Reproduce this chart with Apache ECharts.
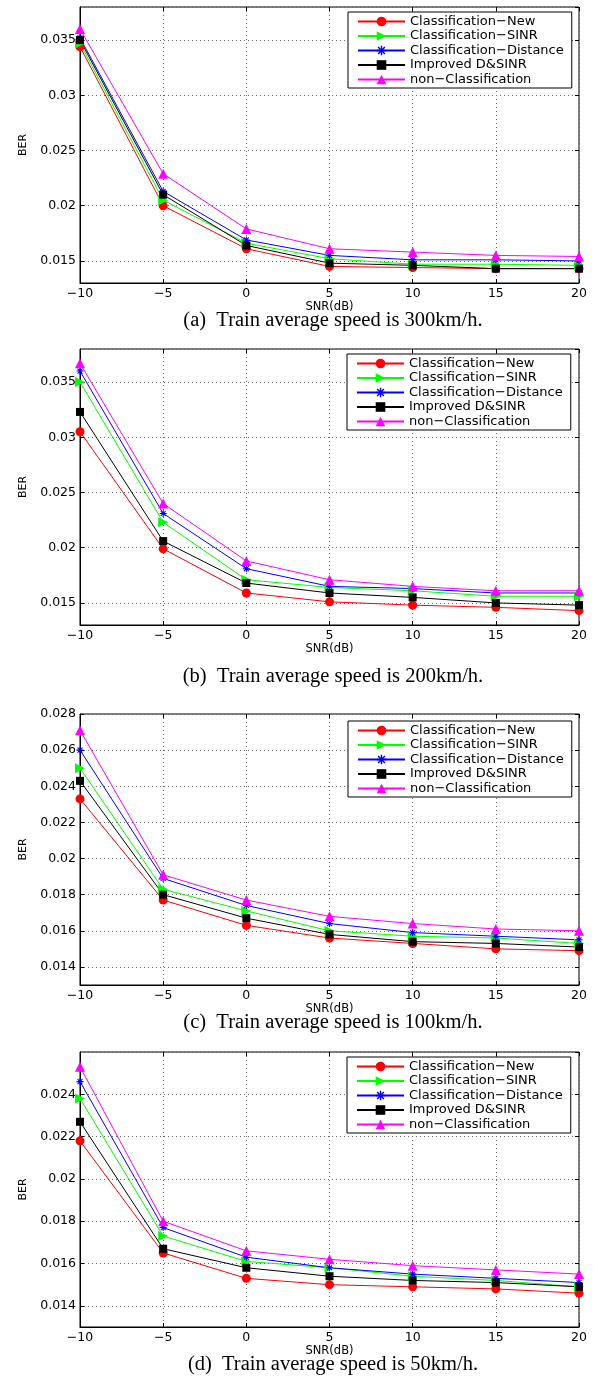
<!DOCTYPE html>
<html>
<head>
<meta charset="utf-8">
<title>BER vs SNR</title>
<script src="https://cdn.jsdelivr.net/npm/echarts@6/dist/echarts.min.js"></script>
<style>
  html, body { margin: 0; padding: 0; background: #fff; }
  #chart { width: 598px; height: 1379px; }
</style>
</head>
<body>
<div id="chart"></div>
<script>
// x values shared by every panel
const snr = [-10, -5, 0, 5, 10, 15, 20];
const names = ['Classification\u2212New', 'Classification\u2212SINR', 'Classification\u2212Distance',
  'Improved D&SINR', 'non\u2212Classification'];

// (a) 300 km/h
const newA  = [0.0344, 0.0200, 0.0161, 0.0145, 0.0144, 0.0143, 0.0143];
const sinrA = [0.0347, 0.0205, 0.0166, 0.0152, 0.0147, 0.0147, 0.0146];
const distA = [0.0352, 0.0213, 0.0169, 0.0155, 0.0151, 0.0151, 0.0150];
const impA  = [0.0350, 0.0210, 0.0164, 0.0148, 0.0146, 0.0143, 0.0143];
const nonA  = [0.0360, 0.0229, 0.0179, 0.0161, 0.0158, 0.0155, 0.0154];

// (b) 200 km/h
const newB  = [0.0305, 0.0199, 0.0159, 0.0151, 0.0148, 0.0146, 0.0143];
const sinrB = [0.0350, 0.0223, 0.0171, 0.0164, 0.0161, 0.0156, 0.0156];
const distB = [0.0360, 0.0231, 0.0181, 0.0165, 0.0163, 0.0159, 0.0159];
const impB  = [0.0323, 0.0206, 0.0168, 0.0159, 0.0155, 0.0150, 0.0148];
const nonB  = [0.0367, 0.0240, 0.0188, 0.0171, 0.0165, 0.0161, 0.0161];

// (c) 100 km/h
const newC  = [0.0233, 0.0177, 0.0163, 0.0156, 0.0153, 0.0150, 0.0149];
const sinrC = [0.0250, 0.0183, 0.0171, 0.0160, 0.0157, 0.0156, 0.0153];
const distC = [0.0260, 0.0189, 0.0174, 0.0164, 0.0159, 0.0157, 0.0155];
const impC  = [0.0243, 0.0180, 0.0167, 0.0158, 0.0154, 0.0153, 0.0151];
const nonC  = [0.0271, 0.0191, 0.0177, 0.0168, 0.0164, 0.0161, 0.0160];

// (d) 50 km/h
const newD  = [0.0218, 0.0165, 0.0153, 0.0150, 0.0149, 0.0148, 0.0146];
const sinrD = [0.0238, 0.0173, 0.0161, 0.0158, 0.0154, 0.0152, 0.0149];
const distD = [0.0246, 0.0177, 0.0163, 0.0158, 0.0155, 0.0153, 0.0151];
const impD  = [0.0227, 0.0167, 0.0158, 0.0154, 0.0152, 0.0151, 0.0149];
const nonD  = [0.0253, 0.0180, 0.0166, 0.0162, 0.0159, 0.0157, 0.0155];

const captions = [
  '(a)  Train average speed is 300km/h.',
  '(b)  Train average speed is 200km/h.',
  '(c)  Train average speed is 100km/h.',
  '(d)  Train average speed is 50km/h.'
];

// layout of the four panels (pixels)
const panels = [
  { top: 7,    height: 276, yMin: 0.013, yMax: 0.038, split: 5, legendTop: 12,   legendLeft: 348, capY: 321, data: [newA, sinrA, distA, impA, nonA] },
  { top: 349,  height: 276, yMin: 0.013, yMax: 0.038, split: 5, legendTop: 354,  legendLeft: 347, capY: 677, data: [newB, sinrB, distB, impB, nonB] },
  { top: 714,  height: 271, yMin: 0.013, yMax: 0.028, split: 7, legendTop: 721,  legendLeft: 348, capY: 1023, data: [newC, sinrC, distC, impC, nonC] },
  { top: 1052, height: 275, yMin: 0.013, yMax: 0.026, split: 6, legendTop: 1057, legendLeft: 347, capY: 1365, data: [newD, sinrD, distD, impD, nonD] }
];

const colors = ['#ff0000', '#00ff00', '#0000ff', '#000000', '#ff00ff'];
const star = 'path://M-1.5,-10L1.5,-10L1.5,10L-1.5,10Z M-10,-1.5L10,-1.5L10,1.5L-10,1.5Z ' +
  'M-6,-8.1L8.1,6L6,8.1L-8.1,-6Z M8.1,-6L-6,8.1L-8.1,6L6,-8.1Z';
const symbols = ['circle', 'path://M0,0L10,5L0,10Z', star, 'rect', 'triangle'];
const symbolSizes = [9, 10, 7, 8, 10];

const sans = 'DejaVu Sans';
const minus = v => String(v).replace('-', '\u2212');
const berLabel = v => String(+v.toFixed(4));

const chart = echarts.init(document.getElementById('chart'), null, { renderer: 'canvas' });

const grid = [], xAxis = [], yAxis = [], series = [], legend = [], graphic = [];

panels.forEach((p, i) => {
  grid.push({
    left: 80, right: 19, top: p.top, height: p.height,
    show: true, borderColor: '#000', borderWidth: 1, backgroundColor: '#fff'
  });

  const dotted = { show: true, lineStyle: { color: '#666', width: 1, type: [1, 3] } };
  const inTick = { show: true, inside: true, length: 4, lineStyle: { color: '#000' } };

  xAxis.push({
    gridIndex: i, type: 'value', min: -10, max: 20, interval: 5,
    name: 'SNR(dB)', nameLocation: 'middle', nameGap: 17,
    nameTextStyle: { fontFamily: sans, fontSize: 11.5, color: '#000' },
    axisLine: { show: true, onZero: false, lineStyle: { color: '#000' } },
    axisTick: inTick,
    axisLabel: { fontFamily: sans, fontSize: 12.5, color: '#000', margin: 4, formatter: minus },
    splitLine: dotted
  });
  xAxis.push({
    gridIndex: i, type: 'value', min: -10, max: 20, interval: 5, position: 'top',
    axisLine: { show: false, onZero: false }, axisTick: inTick,
    axisLabel: { show: false }, splitLine: { show: false }
  });

  yAxis.push({
    gridIndex: i, type: 'value', min: p.yMin, max: p.yMax, splitNumber: p.split,
    name: 'BER', nameLocation: 'middle', nameGap: 51,
    nameTextStyle: { fontFamily: sans, fontSize: 11, color: '#000' },
    axisLine: { show: true, onZero: false, lineStyle: { color: '#000' } },
    axisTick: inTick,
    axisLabel: {
      fontFamily: sans, fontSize: 12.5, color: '#000', margin: 4,
      showMinLabel: false, showMaxLabel: p.yMax === 0.028, formatter: berLabel
    },
    splitLine: dotted
  });
  yAxis.push({
    gridIndex: i, type: 'value', min: p.yMin, max: p.yMax, splitNumber: p.split, position: 'right',
    axisLine: { show: false, onZero: false }, axisTick: inTick,
    axisLabel: { show: false }, splitLine: { show: false }
  });

  p.data.forEach((vals, k) => {
    series.push({
      type: 'line', name: names[k],
      xAxisIndex: i * 2, yAxisIndex: i * 2,
      data: snr.map((x, j) => [x, vals[j]]),
      symbol: symbols[k], symbolSize: symbolSizes[k],
      lineStyle: { color: colors[k], width: 1 },
      itemStyle: { color: colors[k] },
      animation: false, silent: true
    });
  });

  legend.push({
    data: names, orient: 'vertical', left: p.legendLeft, top: p.legendTop,
    itemWidth: 47, itemHeight: 12, itemGap: 1.5,
    padding: [3, 8, 2, 9],
    backgroundColor: '#fff', borderColor: '#000', borderWidth: 1,
    textStyle: { fontFamily: sans, fontSize: 13, lineHeight: 12, color: '#000' },
    selectedMode: false
  });

  graphic.push({
    type: 'text', x: 333, y: p.capY,
    style: {
      text: captions[i], fill: '#000', font: '20.5px "Liberation Serif"',
      textAlign: 'center', textVerticalAlign: 'middle'
    }
  });
});

chart.setOption({
  backgroundColor: '#fff',
  animation: false,
  grid, xAxis, yAxis, series, legend, graphic
});
</script>
</body>
</html>
